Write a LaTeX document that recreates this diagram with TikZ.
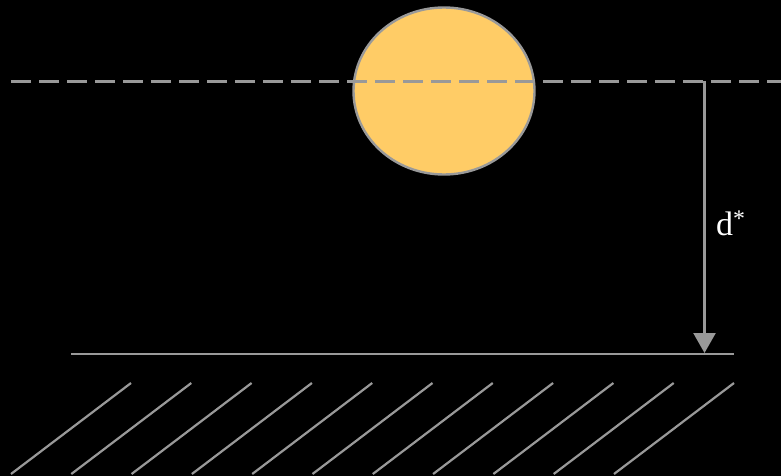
\documentclass[tikz,border=0pt]{standalone}
\usepackage{fontspec}
\setmainfont{Liberation Serif}
\usepackage{tikz}
\usetikzlibrary{positioning,shapes.geometric,arrows.meta}
\usepackage{xcolor}
\definecolor{linegray}{RGB}{153,153,153}
\definecolor{ballorange}{RGB}{255,204,102}

\begin{document}
\begin{tikzpicture}[
    x=1pt, y=-1pt,
    ball/.style={ellipse, draw=linegray, fill=ballorange, line width=2.4pt, minimum width=181pt, minimum height=167pt, inner sep=0pt},
    refline/.style={draw=linegray, line width=2.4pt, dash pattern=on 20pt off 8pt},
    ground/.style={draw=linegray, line width=2.4pt},
    hatch/.style={draw=linegray, line width=2.2pt},
    dist/.style={draw=linegray, line width=2.4pt, -{Triangle[width=22pt,length=20pt]}},
    lbl/.style={text=white, font=\fontsize{34}{38}\selectfont, inner sep=0pt}
]
    % background and size
    \fill[black] (0,0) rectangle (781,476);
    \useasboundingbox (0,0) rectangle (781,476);

    % dashed reference level
    \coordinate (refstart) at (11,81.5);
    \coordinate (refend) at (781,81.5);
    \path [refline] (refstart) -- (refend);

    % the ball
    \node [ball] (sphere) at (444,91) {};
    \path [refline] (refstart) -- (refend);

    % floor and hatching
    \coordinate (floorL) at (71,354);
    \coordinate (floorR) at (734,354);
    \path [ground] (floorL) -- (floorR);
    \foreach \i in {0,...,10}
        \path [hatch] (11+60.3*\i,474) -- ++(120,-91);

    % distance d*
    \coordinate (top) at (704.5,81.5);
    \coordinate (bottom) at (704.5,353);
    \path [dist] (top) -- (bottom);
    \node [lbl, anchor=base west] (dstar) at (716,235.5) {d\textsuperscript{*}};
\end{tikzpicture}
\end{document}
